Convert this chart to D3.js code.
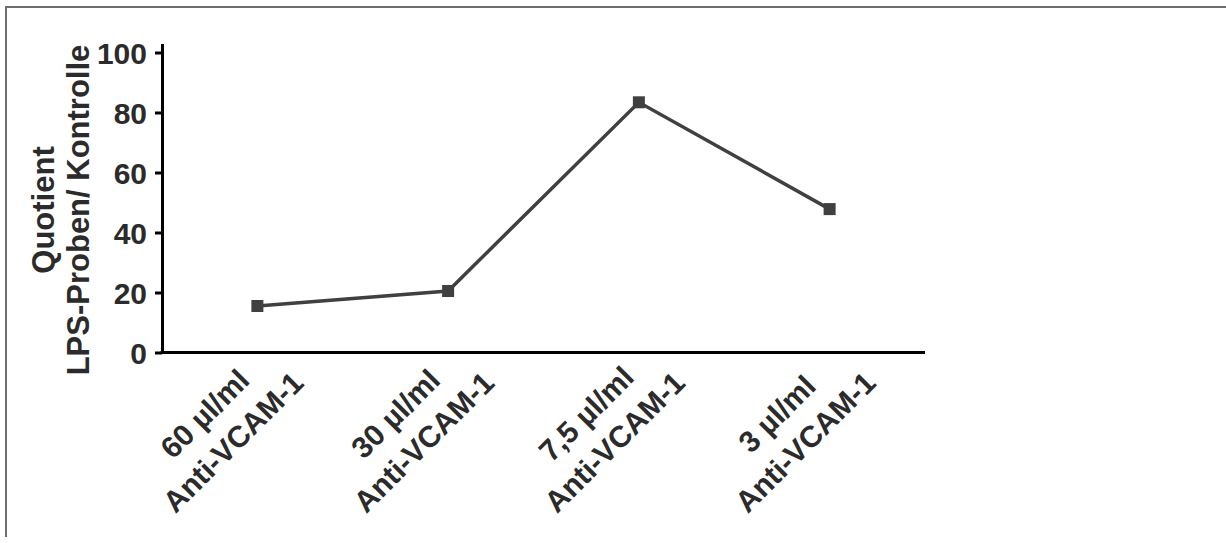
<!DOCTYPE html>
<html>
<head>
<meta charset="utf-8">
<script src="https://cdn.jsdelivr.net/npm/d3@7"></script>
<style>
  html, body { margin: 0; padding: 0; background: #fff; }
  svg { display: block; }
  text { font-family: "Liberation Sans", Arial, sans-serif; font-weight: bold; fill: #2b2b2b; }
</style>
</head>
<body>
<svg id="chart" width="1226" height="543"></svg>
<script>
const categoriesLine1 = ["60 µl/ml", "30 µl/ml", "7,5 µl/ml", "3 µl/ml"];
const categoriesLine2 = ["Anti-VCAM-1", "Anti-VCAM-1", "Anti-VCAM-1", "Anti-VCAM-1"];
const values = [15.5, 20.5, 83.4, 47.8];
const yTicks = [0, 20, 40, 60, 80, 100];
const yTitle = ["Quotient", "LPS-Proben/ Kontrolle"];

const svg = d3.select("#chart");
const W = 1226, H = 543;

// frame
svg.append("line").attr("x1", 6).attr("y1", 7).attr("x2", W).attr("y2", 7)
  .attr("stroke", "#6e6e6e").attr("stroke-width", 2);
svg.append("line").attr("x1", 6).attr("y1", 6).attr("x2", 6).attr("y2", 537)
  .attr("stroke", "#6e6e6e").attr("stroke-width", 2);

const left = 162, right = 925, y0 = 352.5;
const idx = d3.range(values.length);
const x = d3.scaleBand().domain(idx).range([left, right]);
const y = d3.scaleLinear().domain([0, 103]).range([y0, y0 - 309]);

// y axis
const yAxis = svg.append("g").attr("transform", `translate(${left},0)`)
  .call(d3.axisLeft(y).tickValues(yTicks).tickSize(7).tickSizeOuter(0).tickPadding(8));
yAxis.select(".domain").attr("stroke", "#000").attr("stroke-width", 3);
yAxis.selectAll(".tick line").attr("stroke", "#000").attr("stroke-width", 3);
yAxis.selectAll(".tick text").attr("font-size", 30).attr("font-family", "Liberation Sans, Arial, sans-serif")
  .attr("font-weight", "bold").attr("fill", "#2b2b2b").attr("dy", "0.36em");

// x axis
const xAxis = svg.append("g").attr("transform", `translate(0,${y0})`)
  .call(d3.axisBottom(x).tickSize(0).tickSizeOuter(0).tickFormat(""));
xAxis.select(".domain").attr("stroke", "#000").attr("stroke-width", 3)
  .attr("d", `M${left - 1.5},0H${right}`);

// x labels
idx.forEach(i => {
  const cx = x(i) + x.bandwidth() / 2;
  const g = svg.append("g").attr("transform", `translate(${cx - 17},${y0 + 97}) rotate(-45)`);
  g.append("text").attr("x", 0).attr("y", -40).attr("text-anchor", "middle")
    .attr("font-size", 30).text(categoriesLine1[i]);
  g.append("text").attr("x", 0).attr("y", 0).attr("text-anchor", "middle")
    .attr("font-size", 30).text(categoriesLine2[i]);
});

// y title
const tg = svg.append("g").attr("transform", `translate(54,210) rotate(-90)`);
tg.append("text").attr("x", 0).attr("y", 0).attr("text-anchor", "middle").attr("font-size", 31).text(yTitle[0]);
tg.append("text").attr("x", 0).attr("y", 35).attr("text-anchor", "middle").attr("font-size", 31).text(yTitle[1]);

// series
const cxf = i => x(i) + x.bandwidth() / 2;
const line = d3.line().x((d, i) => cxf(i)).y(d => y(d));
svg.append("path").datum(values).attr("d", line)
  .attr("fill", "none").attr("stroke", "#404040").attr("stroke-width", 3.5);
svg.selectAll("rect.pt").data(values).enter().append("rect").attr("class", "pt")
  .attr("x", (d, i) => cxf(i) - 6).attr("y", d => y(d) - 6)
  .attr("width", 12).attr("height", 12).attr("fill", "#404040");
</script>
</body>
</html>
